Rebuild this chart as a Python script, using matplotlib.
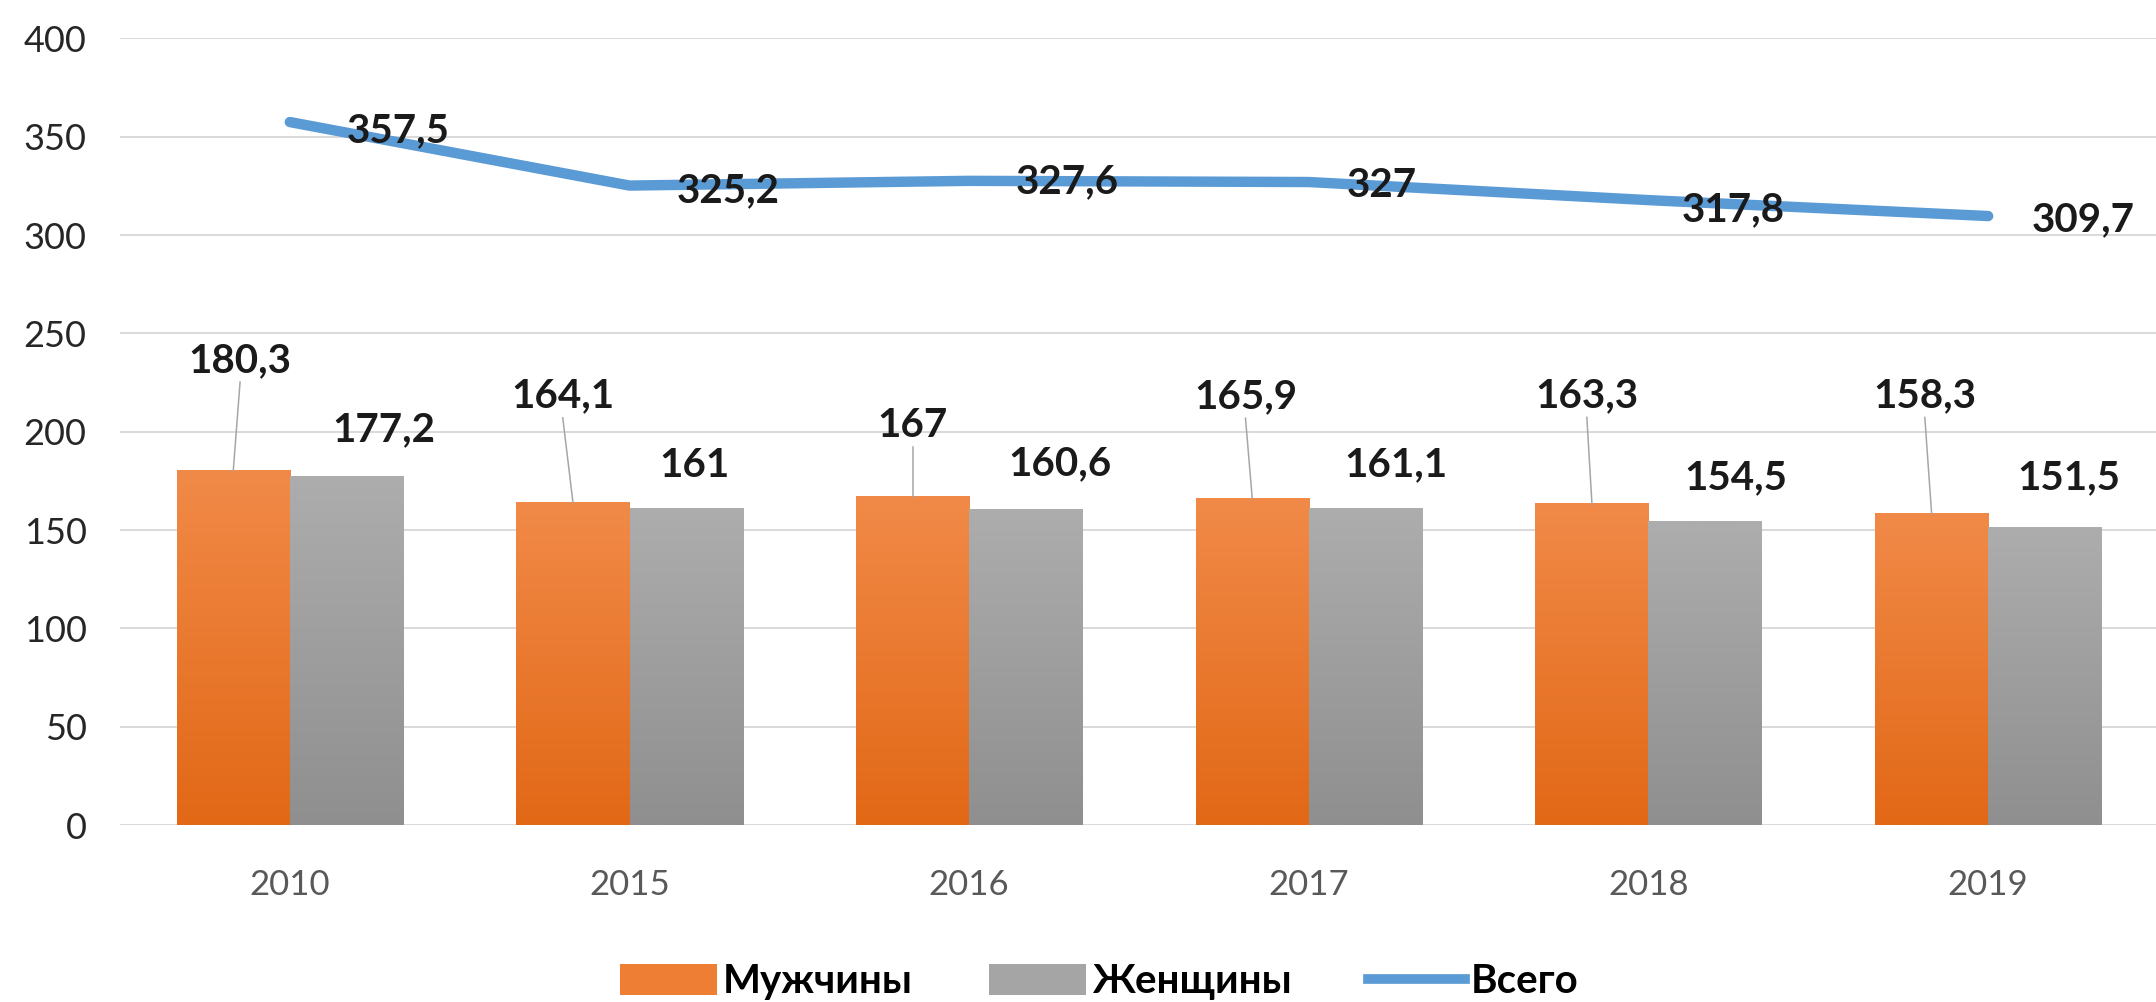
import matplotlib

matplotlib.use("Agg")
import matplotlib.pyplot as plt
import numpy as np
from matplotlib.colors import to_rgb
from matplotlib.lines import Line2D
from matplotlib.patches import Patch

years = ["2010", "2015", "2016", "2017", "2018", "2019"]
men = [180.3, 164.1, 167.0, 165.9, 163.3, 158.3]
women = [177.2, 161.0, 160.6, 161.1, 154.5, 151.5]
total = [357.5, 325.2, 327.6, 327.0, 317.8, 309.7]
y_ticks = [0, 50, 100, 150, 200, 250, 300, 350, 400]
series_names = ["Мужчины", "Женщины", "Всего"]

# label nudges (category units, value units), placed by hand in the original
men_dx = [0.02, -0.03, 0.0, -0.02, -0.015, -0.02]
men_dy = [56, 54, 36, 52, 55, 60]
women_dx = [0.11, 0.025, 0.10, 0.09, 0.09, 0.07]
women_dy = [24, 22, 23, 22, 22, 25]
total_dx = [0.32, 0.29, 0.29, 0.215, 0.25, 0.28]
total_dy = [-4.5, -2.5, -0.6, -2, -4.8, -2]

FONT = ["Lato", "DejaVu Sans"]
ORANGE_TOP, ORANGE_BOT = "#F18A48", "#E26816"
GRAY_TOP, GRAY_BOT = "#ADADAD", "#8F8F8F"
BLUE = "#5B9BD5"
BAR_W = 0.333


def _fmt(v: float) -> str:
    return f"{v:g}".replace(".", ",")


def _gradient_bars(ax, xs, heights, top, bot):
    bars = ax.bar(xs, heights, width=BAR_W, color="none", edgecolor="none", zorder=2)
    c0, c1 = np.array(to_rgb(top)), np.array(to_rgb(bot))
    t = np.linspace(0, 1, 256)[:, None, None]
    grad = c0 * (1 - t) + c1 * t
    for patch in bars:
        x0 = patch.get_x()
        ax.imshow(grad, extent=[x0, x0 + patch.get_width(), 0, patch.get_height()],
                  origin="upper", aspect="auto", zorder=2, interpolation="bilinear")
    return bars


fig = plt.figure(figsize=(21.56, 10.02), dpi=100)
ax = fig.add_axes([120 / 2156, 0.1766, 2038 / 2156, 0.785])

x = np.arange(len(years))
_gradient_bars(ax, x - BAR_W / 2, men, ORANGE_TOP, ORANGE_BOT)
_gradient_bars(ax, x + BAR_W / 2, women, GRAY_TOP, GRAY_BOT)
ax.plot(x, total, color=BLUE, lw=7.5, solid_capstyle="round", solid_joinstyle="round", zorder=3)

label_kw = dict(ha="center", va="center", fontsize=29, fontweight="bold", color="#1a1a1a", family=FONT, zorder=5)
for i in range(len(years)):
    bx = x[i] - BAR_W / 2
    lx, ly = bx + men_dx[i], men[i] + men_dy[i]
    ax.text(lx, ly, _fmt(men[i]), **label_kw)
    ax.plot([bx, lx], [men[i], ly - 11], color="#A6A6A6", lw=1.1, zorder=4)
    gx = x[i] + BAR_W / 2
    ax.text(gx + women_dx[i], women[i] + women_dy[i], _fmt(women[i]), **label_kw)
    ax.text(x[i] + total_dx[i], total[i] + total_dy[i], _fmt(total[i]), **label_kw)

ax.set_xlim(-0.5, 5.5)
ax.set_ylim(0, 400)
ax.set_yticks(y_ticks)
ax.set_xticks(x)
ax.set_xticklabels(years)
ax.grid(axis="y", color="#D9D9D9", lw=1.4, zorder=0)
ax.set_axisbelow(True)
for side in ax.spines.values():
    side.set_visible(False)
ax.tick_params(axis="both", length=0)
ax.tick_params(axis="y", pad=24, labelsize=26, labelcolor="#262626")
ax.tick_params(axis="x", pad=32, labelsize=25, labelcolor="#595959")
for lab in ax.get_xticklabels() + ax.get_yticklabels():
    lab.set_family(FONT)

handles = [
    Patch(facecolor="#EE7E33", edgecolor="none"),
    Patch(facecolor="#A5A5A5", edgecolor="none"),
    Line2D([0], [0], color=BLUE, lw=7),
]
fig.legend(handles, series_names, loc="center", bbox_to_anchor=(0.51, 0.02), ncol=3, frameon=False,
           prop=dict(family=FONT, size=29, weight="bold"), handlelength=2.4, handleheight=0.8,
           handletextpad=0.15, columnspacing=1.9)

fig.savefig("out.png", dpi=100, facecolor="white")
